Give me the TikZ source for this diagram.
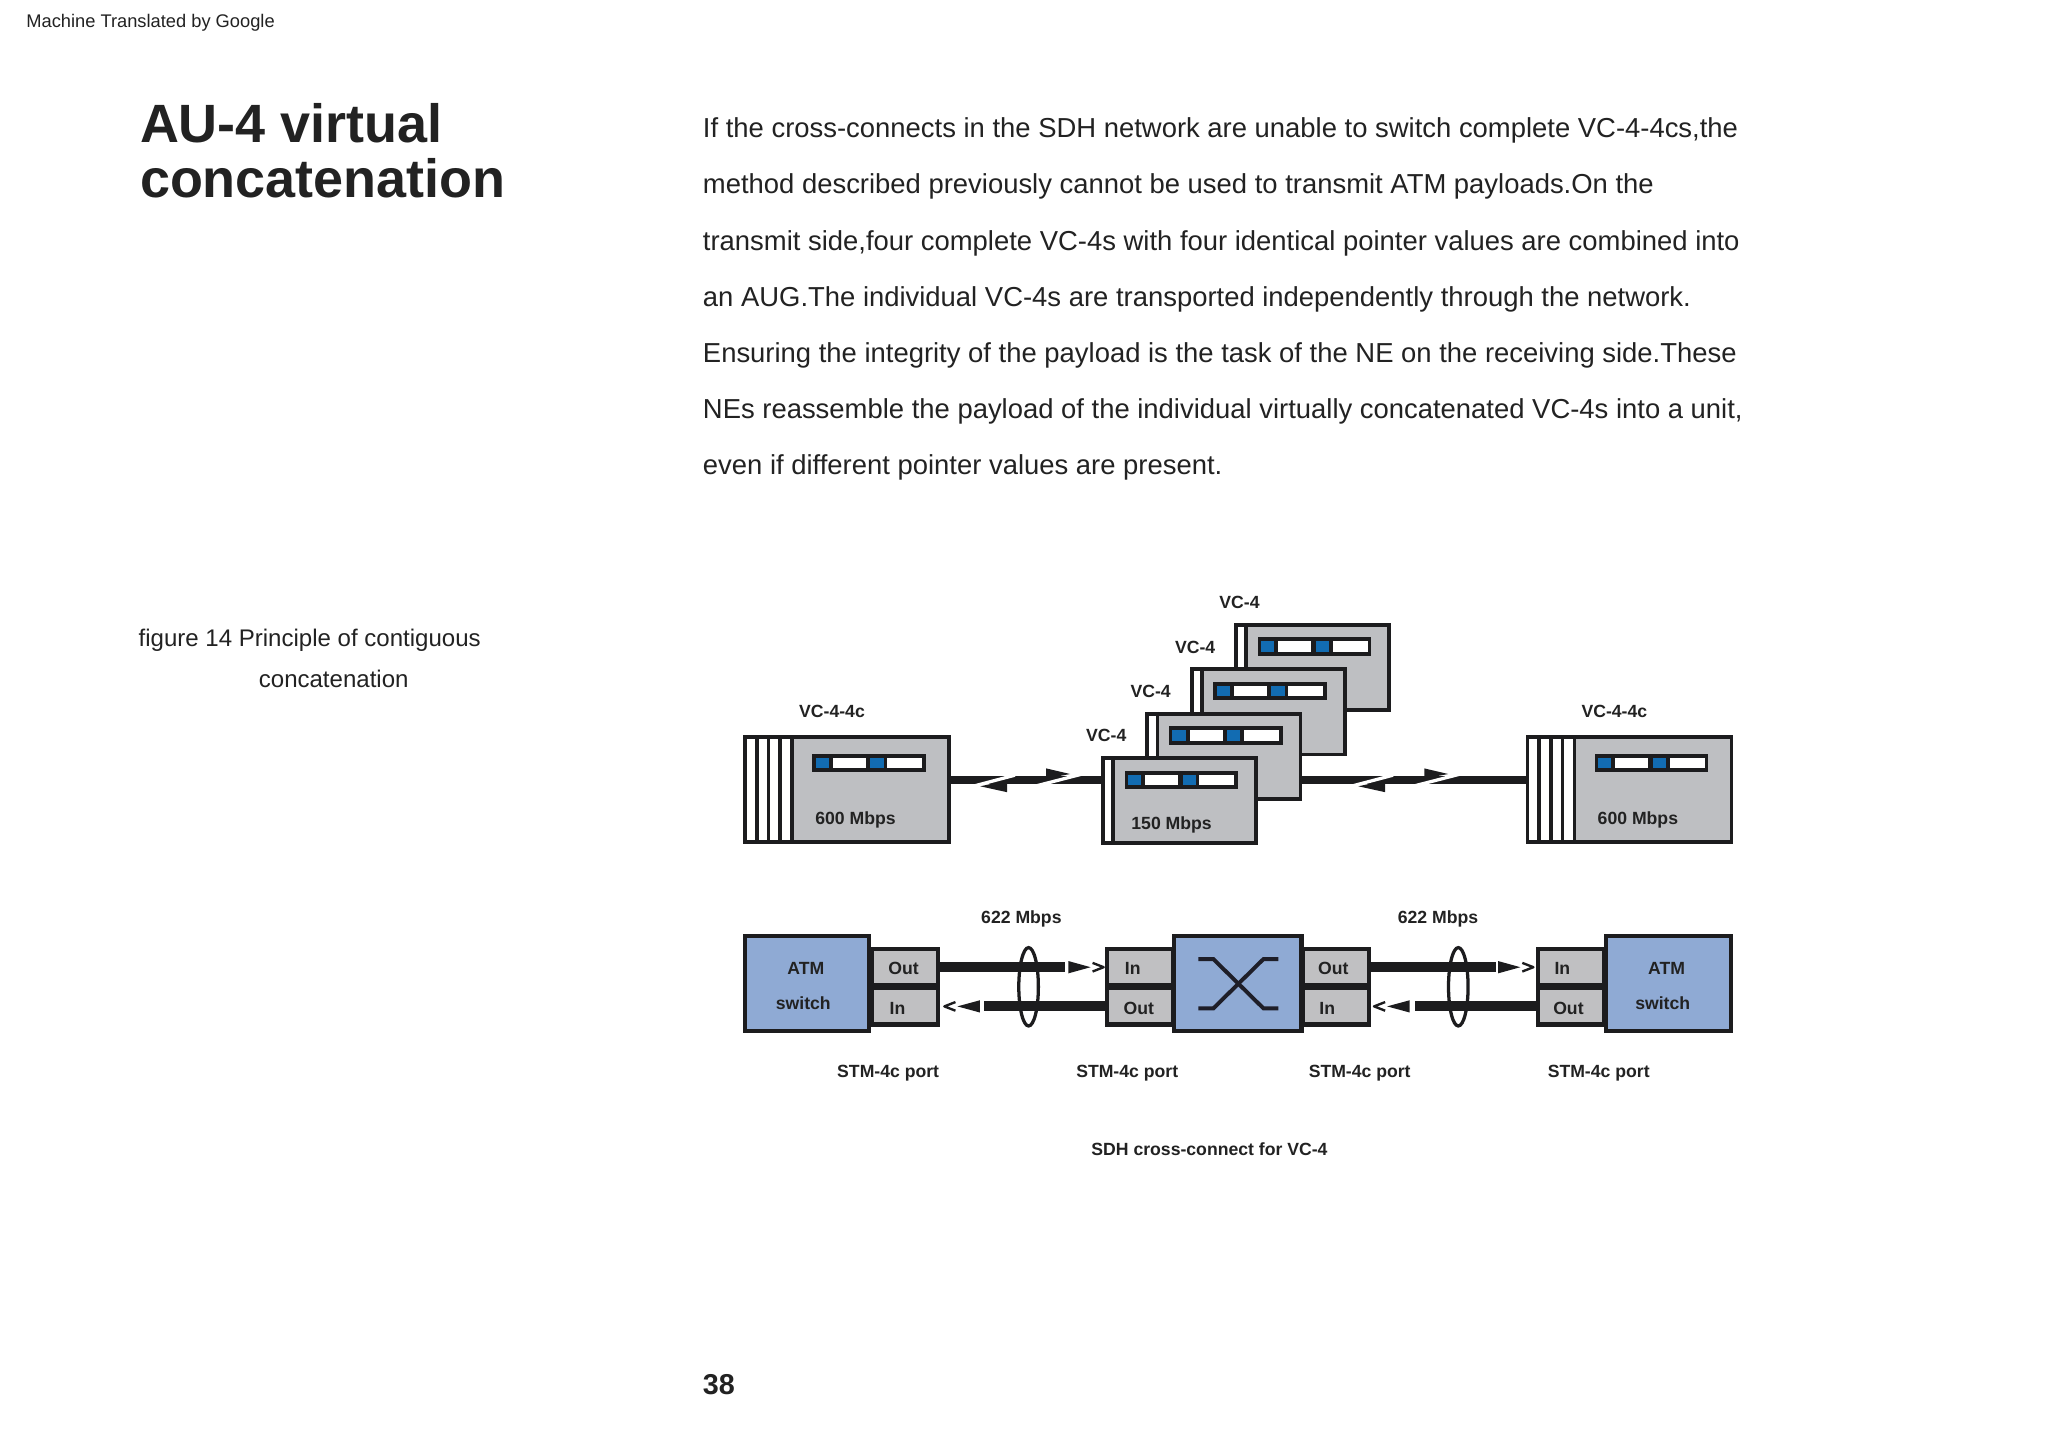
\documentclass[tikz,border=0pt]{standalone}
\usepackage{fontspec}
\setmainfont{Liberation Sans}
\definecolor{ink}{RGB}{28,28,30}
\definecolor{txt}{RGB}{34,34,34}
\definecolor{boxgray}{RGB}{190,191,194}
\definecolor{portgray}{RGB}{192,192,194}
\definecolor{swblue}{RGB}{143,170,212}
\definecolor{sqblue}{RGB}{18,108,178}
\definecolor{xink}{RGB}{30,30,40}

% indicator bar, top-left x,y
\newcommand\VCbar[2]{%
  \fill[ink] (#1,#2) rectangle (#1+87,#2+14);
  \fill[sqblue] (#1+2.5,#2+3) rectangle (#1+12.7,#2+11);
  \fill[white] (#1+15.7,#2+3) rectangle (#1+41,#2+11);
  \fill[sqblue] (#1+44.4,#2+3) rectangle (#1+54.5,#2+11);
  \fill[white] (#1+57.2,#2+3) rectangle (#1+84,#2+11);
}
% VC-4-4c container: name, outer top-left x,y
\newcommand\VCfourC[3]{%
  \node[grbox, minimum width=156.2pt, minimum height=80.2pt] (#1) at (#2,#3) {};
  \fill[white] (#2+2.8,#3+2.8) rectangle (#2+37,#3+80.2);
  \foreach \s in {10.4,19.4,28.4,37.4}
    \draw[ink, line width=2.8pt] (#2+\s,#3) -- (#2+\s,#3+83);
  \VCbar{#2+53}{#3+14}
}
% VC-4 container: name, outer top-left x,y
\newcommand\VCfour[3]{%
  \node[grbox, minimum width=117.2pt, minimum height=65.2pt] (#1) at (#2,#3) {};
  \fill[white] (#2+2.8,#3+2.8) rectangle (#2+8,#3+65.2);
  \draw[ink, line width=2.8pt] (#2+9.2,#3) -- (#2+9.2,#3+68);
  \VCbar{#2+18}{#3+11}
  \node[lab] at (#2+4,#3-11) {VC-4};
}
% decoration of upper (VC) link, shifted by dx
\newcommand\TopDeco[1]{%
  \begin{scope}[xshift=#1pt]
    \draw[white, line width=2.5pt] (741,603) -- (777,593.5);
    \fill[ink] (750.5,602) -- (771,597.5) -- (771,606.5) -- cycle;
    \draw[white, line width=2.5pt] (794,601.5) -- (831,592);
    \fill[ink] (819.3,592.6) -- (801,588.3) -- (801,596) -- cycle;
  \end{scope}
}
% decoration of STM-4c link, shifted by dx
\newcommand\BotDeco[1]{%
  \begin{scope}[xshift=#1pt]
    \fill[ink] (818,735.8) -- (835,740.5) -- (818,745.2) -- cycle;
    \draw[ink, line width=1.8pt, line join=round] (836.5,737.2) -- (845,740.5) -- (836.5,743.8);
    \fill[ink] (750.3,765.8) -- (733,770.5) -- (750.3,775.2) -- cycle;
    \draw[ink, line width=1.8pt, line join=round] (731.5,767.2) -- (723,770.5) -- (731.5,773.8);
    \draw[ink, line width=2.5pt] (787.5,755.5) ellipse [x radius=7.5pt, y radius=30pt];
  \end{scope}
}

\begin{document}
\begin{tikzpicture}[x=1pt,y=-1pt,
  grbox/.style={draw=ink, fill=boxgray, line width=2.8pt, inner sep=0pt, anchor=north west},
  blbox/.style={draw=ink, line width=3.2pt, inner sep=0pt, anchor=north west},
  swbox/.style={blbox, fill=swblue},
  portbox/.style={blbox, fill=portgray, minimum width=50.8pt, minimum height=27.8pt},
  lab/.style={font=\bfseries\fontsize{13.5}{16}\selectfont, text=txt, inner sep=0pt, anchor=base},
  portlab/.style={font=\bfseries\fontsize{13.5}{16}\selectfont, text=txt, inner sep=0pt, anchor=base west},
  bodytxt/.style={font=\fontsize{21}{25}\selectfont, text=txt, inner sep=0pt, anchor=base west},
  vclink/.style={draw=ink, line width=6pt},
  stmlink/.style={draw=ink, line width=7.5pt}
]
\useasboundingbox (0,0) rectangle (1568,1112);
\fill[white] (0,0) rectangle (1568,1112);

% ---------- page text ----------
\node[bodytxt, font=\fontsize{14}{16}\selectfont] (hdr) at (20,21) {Machine Translated by Google};
\node[bodytxt, font=\bfseries\fontsize{41.3}{44}\selectfont] (t1) at (107,109) {AU-4 virtual};
\node[bodytxt, font=\bfseries\fontsize{41.3}{44}\selectfont] (t2) at (107,151) {concatenation};

\node[bodytxt] (p1) at (538,105.5) {If the cross-connects in the SDH network are unable to switch complete VC-4-4cs,the};
\node[bodytxt] (p2) at (538,148.5) {method described previously cannot be used to transmit ATM payloads.On the};
\node[bodytxt] (p3) at (538,191.5) {transmit side,four complete VC-4s with four identical pointer values are combined into};
\node[bodytxt] (p4) at (538,234.5) {an AUG.The individual VC-4s are transported independently through the network.};
\node[bodytxt] (p5) at (538,277.5) {Ensuring the integrity of the payload is the task of the NE on the receiving side.These};
\node[bodytxt] (p6) at (538,320.5) {NEs reassemble the payload of the individual virtually concatenated VC-4s into a unit,};
\node[bodytxt] (p7) at (538,363.5) {even if different pointer values are present.};

\node[bodytxt, font=\fontsize{18.4}{22}\selectfont] (c1) at (106,495) {figure 14 Principle of contiguous};
\node[bodytxt, font=\fontsize{18.4}{22}\selectfont] (c2) at (198,526) {concatenation};

\node[bodytxt, font=\bfseries\fontsize{22}{26}\selectfont] (pg) at (538,1068) {38};

% ---------- upper row: containers ----------
\VCfourC{L44}{569}{563}
\node[lab] at (637,549) {VC-4-4c};
\node[lab] at (655,631) {600 Mbps};

\VCfour{V3}{945}{477}
\VCfour{V2}{911}{511}
\VCfour{V1}{877}{545}
\VCfour{V0}{843}{579}
\node[lab] at (897,635) {150 Mbps};

\VCfourC{R44}{1168}{563}
\node[lab] at (1236,549) {VC-4-4c};
\node[lab] at (1254,631) {600 Mbps};

% upper links
\draw[vclink] ([yshift=7.5pt]L44.east) -- ([yshift=16pt]V0.west);
\draw[vclink] ([yshift=-18pt]V1.east) -- ([yshift=7.5pt]R44.west);
\TopDeco{0}
\TopDeco{289.5}

% ---------- lower row: switches and ports ----------
\node[portbox] (LOut) at (666,725) {};
\node[portbox] (LIn) at (666,755) {};
\node[swbox, minimum width=94.8pt, minimum height=72.8pt] (LSW) at (569,715) {};

\node[portbox] (XIn) at (846,725) {};
\node[portbox] (XOut) at (846,755) {};
\node[portbox] (XOut2) at (996,725) {};
\node[portbox] (XIn2) at (996,755) {};
\node[swbox, minimum width=97.8pt, minimum height=72.8pt] (XC) at (897,715) {};

\node[portbox] (RIn) at (1176,725) {};
\node[portbox] (ROut) at (1176,755) {};
\node[swbox, minimum width=95.8pt, minimum height=72.8pt] (RSW) at (1228,715) {};

% cross-connect symbol
\draw[xink, line width=3pt] (917.5,734.3) -- (929,734.3) -- (967.3,772) -- (978.8,772);
\draw[xink, line width=3pt] (978.8,734.3) -- (967.3,734.3) -- (929,772) -- (917.5,772);

% texts in boxes
\node[lab] at (617,746) {ATM};
\node[lab] at (615,773) {switch};
\node[lab] at (1276,746) {ATM};
\node[lab] at (1273,773) {switch};
\node[portlab] at (680,746) {Out};
\node[portlab] at (681,777) {In};
\node[portlab] at (861,746) {In};
\node[portlab] at (860,777) {Out};
\node[portlab] at (1009,746) {Out};
\node[portlab] at (1010,777) {In};
\node[portlab] at (1190,746) {In};
\node[portlab] at (1189,777) {Out};

% STM-4c links
\draw[stmlink, shorten >=30.6pt] (LOut.east) -- (XIn.west);
\draw[stmlink, shorten >=33pt] (XOut.west) -- (LIn.east);
\draw[stmlink, shorten >=30.6pt] (XOut2.east) -- (RIn.west);
\draw[stmlink, shorten >=33pt] (ROut.west) -- (XIn2.east);
\BotDeco{0}
\BotDeco{329}

% labels
\node[lab] at (782,707) {622 Mbps};
\node[lab] at (1101,707) {622 Mbps};
\node[lab] at (680,825) {STM-4c port};
\node[lab] at (863,825) {STM-4c port};
\node[lab] at (1041,825) {STM-4c port};
\node[lab] at (1224,825) {STM-4c port};
\node[lab] at (926,885) {SDH cross-connect for VC-4};
\end{tikzpicture}
\end{document}
